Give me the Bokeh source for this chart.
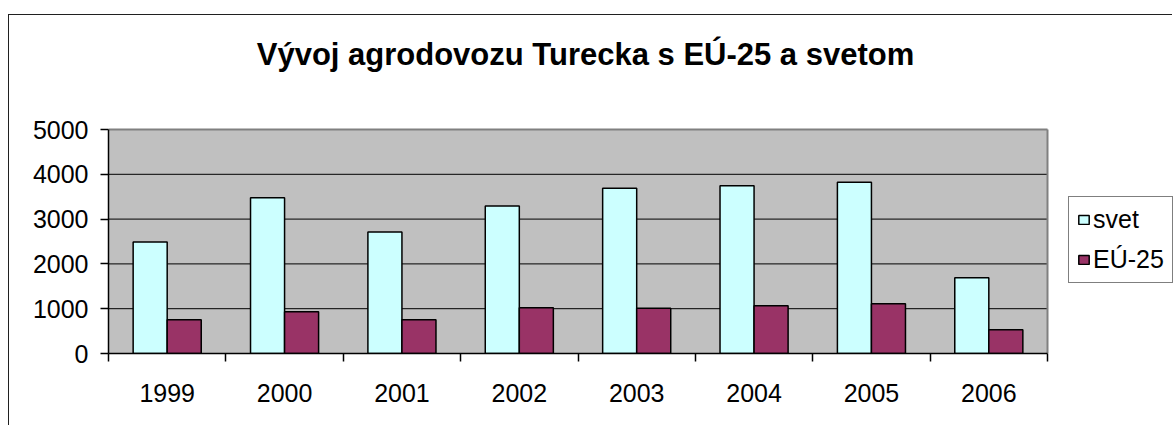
import numpy as np
from bokeh.plotting import figure
from bokeh.models import (ColumnDataSource, Range1d, FixedTicker, Legend,
                          LegendItem, Label)
from bokeh.embed import file_html
from bokeh.resources import INLINE

# ---- data ----
title_text = "Vývoj agrodovozu Turecka s EÚ-25 a svetom"
years = ["1999", "2000", "2001", "2002", "2003", "2004", "2005", "2006"]
svet = [2490, 3475, 2710, 3295, 3690, 3745, 3825, 1690]
eu25 = [755, 930, 755, 1020, 1010, 1065, 1110, 530]
series_names = ["svet", "EÚ-25"]
y_ticks = [0, 1000, 2000, 3000, 4000, 5000]

FONT = "Liberation Sans"
BAR_W = 0.29

n = len(years)
y_max = y_ticks[-1]
centers = np.arange(n) + 0.5
src = ColumnDataSource(dict(
    xs=centers - BAR_W / 2, xe=centers + BAR_W / 2, svet=svet, eu=eu25))

# layout (pixels): the frame reaches the right and top canvas edges so that
# the title and legend can live inside it; the plot area itself spans
# 939 x 224 px of it.
W, H = 1164, 411
LEFT, BOTTOM = 99, 73
PLOT_W, PLOT_H = 939, 224
frame_w, frame_h = W - LEFT, H - BOTTOM
x_end = n * frame_w / PLOT_W
y_end = y_max * frame_h / PLOT_H

p = figure(width=W, height=H, output_backend="svg", toolbar_location=None,
           x_range=Range1d(0, x_end), y_range=Range1d(0, y_end),
           min_border_left=LEFT, min_border_right=0,
           min_border_top=0, min_border_bottom=BOTTOM)
p.margin = (14, 0, 0, 8)
p.styles = {"border-left": "1px solid #202020", "border-top": "1px solid #202020"}
p.background_fill_color = "white"
p.border_fill_color = "white"
p.outline_line_color = None
p.xgrid.visible = False
p.ygrid.visible = False

# plot area, grid lines and plot-area edges
p.quad(left=0, right=n, bottom=0, top=y_max, fill_color="#C0C0C0", line_color=None)
p.segment(x0=[0] * (len(y_ticks) - 2), x1=[n] * (len(y_ticks) - 2),
          y0=y_ticks[1:-1], y1=y_ticks[1:-1], line_color="black", line_width=1)
p.segment(x0=[0, n], y0=[y_max, 0], x1=[n, n], y1=[y_max, y_max],
          line_color="#808080", line_width=2)

r1 = p.vbar(x="xs", top="svet", width=BAR_W, source=src, fill_color="#CCFFFF",
            line_color="black", line_width=1.5)
r2 = p.vbar(x="xe", top="eu", width=BAR_W, source=src, fill_color="#993366",
            line_color="black", line_width=1.5)

# y axis
ya = p.yaxis[0]
ya.ticker = FixedTicker(ticks=y_ticks)
ya.bounds = (0, y_max)
ya.axis_line_color = "black"
ya.axis_line_width = 1.5
ya.major_tick_line_color = "black"
ya.major_tick_line_width = 1.5
ya.major_tick_in = 0
ya.major_tick_out = 8
ya.minor_tick_line_color = None
ya.major_label_standoff = 12
ya.major_label_text_font = FONT
ya.major_label_text_font_size = "25px"
ya.major_label_text_color = "black"

# x axis: labels at centres, tick marks at category boundaries
xa = p.xaxis[0]
xa.ticker = FixedTicker(ticks=list(centers), minor_ticks=list(range(n + 1)))
xa.bounds = (0, n)
xa.major_label_overrides = {float(c): y for c, y in zip(centers, years)}
xa.axis_line_color = "black"
xa.axis_line_width = 1.5
xa.major_tick_line_color = None
xa.major_tick_in = 0
xa.major_tick_out = 0
xa.minor_tick_line_color = "black"
xa.minor_tick_line_width = 1.5
xa.minor_tick_in = 0
xa.minor_tick_out = 8
xa.major_label_standoff = 22
xa.major_label_text_font = FONT
xa.major_label_text_font_size = "25px"
xa.major_label_text_color = "black"

# legend
lg = Legend(items=[LegendItem(label=series_names[0], renderers=[r1]),
                   LegendItem(label=series_names[1], renderers=[r2])])
lg.location = (960, 70)
lg.margin = 0
lg.padding = 8
lg.spacing = 11
lg.label_height = 27
lg.glyph_width = 13
lg.glyph_height = 11
lg.label_standoff = 3
lg.label_text_font = FONT
lg.label_text_font_size = "25px"
lg.label_text_color = "black"
lg.border_line_color = "black"
lg.border_line_width = 1
lg.background_fill_color = "white"
lg.background_fill_alpha = 1
p.add_layout(lg, "center")

# title
p.add_layout(Label(x=477, y=299, x_units="screen", y_units="screen",
                   text=title_text, text_font=FONT, text_font_size="31px",
                   text_font_style="bold", text_align="center",
                   text_baseline="alphabetic", text_color="black"))

open("out.html", "w").write(file_html(p, INLINE))
